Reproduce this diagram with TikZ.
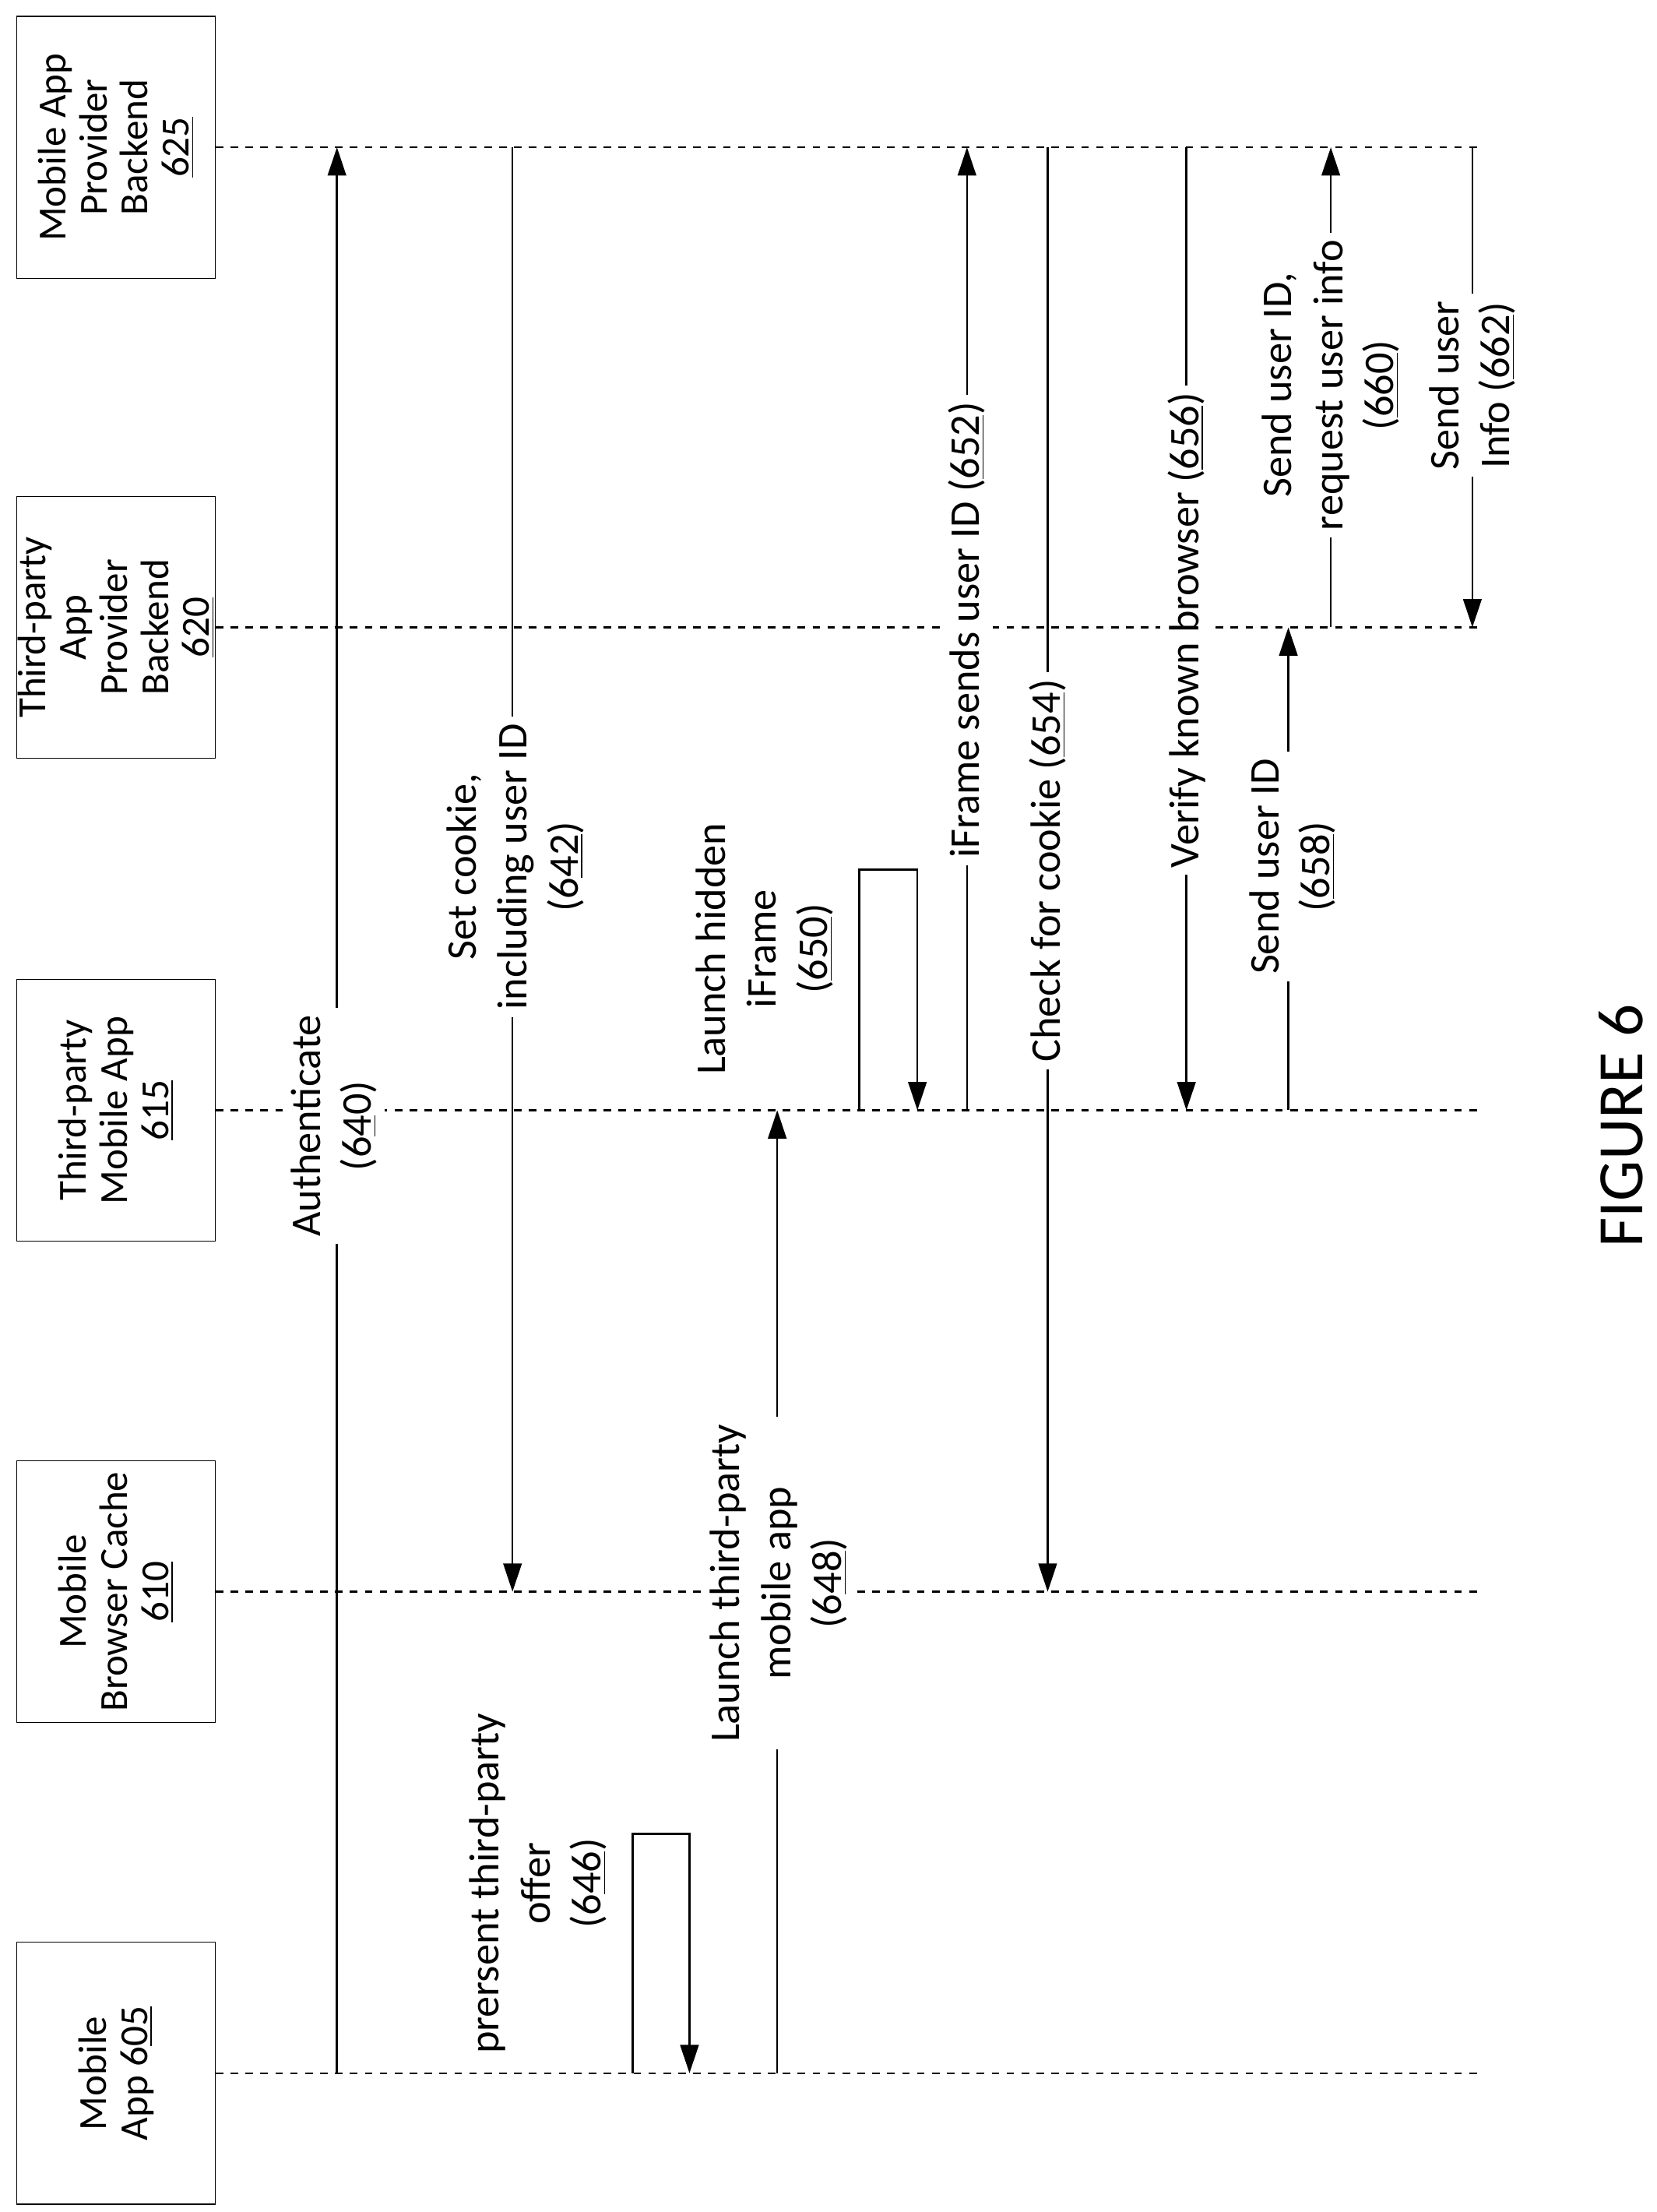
\documentclass[tikz,border=0pt]{standalone}
\usepackage{fontspec}
\setmainfont{Carlito}
\usetikzlibrary{arrows.meta, positioning}
\tikzset{%
  party/.style={draw, rotate=90, align=center, minimum width=3.7cm, minimum height=2.8cm, inner sep=0mm, font=\fontsize{16}{16.5}\selectfont},
  life/.style={dashed, thick},
  msg/.style={thick, -{Triangle[length=0.4cm,width=0.26cm]}},
  lbl/.style={rotate=90, align=center, fill=white, inner sep=1mm},
  freelbl/.style={rotate=90, align=center, inner sep=0mm}
}
\begin{document}
\begin{tikzpicture}[x=0.02cm, y=-0.02cm, font=\fontsize{17}{20.5}\selectfont]
  \useasboundingbox (0,0) rectangle (1170,1562);
  % parties
  \node[party] (b625) at (82,104) {Mobile App\\Provider\\Backend\\\underline{625}};
  \node[party] (b620) at (82,443) {Third-party\\App\\Provider\\Backend\\\underline{620}};
  \node[party] (b615) at (82,784) {Third-party\\Mobile App\\\underline{615}};
  \node[party] (b610) at (82,1124) {Mobile\\Browser Cache\\\underline{610}};
  \node[party] (b605) at (82,1464) {Mobile\\App 6\underline{05}};

  % lifelines
  \foreach \p/\y in {625/104, 620/443, 615/784, 610/1124, 605/1464} {
    \coordinate (e\p) at (1045,\y);
    \draw[life] (b\p.south) -- (e\p);
  }

  % message ends
  \coordinate (m640a) at (238,1464);  \coordinate (m640b) at (238,104);
  \coordinate (m642a) at (362,104);   \coordinate (m642b) at (362,1124);
  \coordinate (m648a) at (549,1464);  \coordinate (m648b) at (549,784);
  \coordinate (m652a) at (683,784);   \coordinate (m652b) at (683,104);
  \coordinate (m654a) at (740,104);   \coordinate (m654b) at (740,1124);
  \coordinate (m656a) at (838,104);   \coordinate (m656b) at (838,784);
  \coordinate (m658a) at (910,784);   \coordinate (m658b) at (910,443);
  \coordinate (m660a) at (940,443);   \coordinate (m660b) at (940,104);
  \coordinate (m662a) at (1040,104);  \coordinate (m662b) at (1040,443);

  \foreach \m in {640, 642, 648, 652, 654, 656, 658, 660, 662}
    \draw[msg] (m\m a) -- (m\m b);

  % self messages
  \draw[msg] (447,1464) |- (487,1295) -- (487,1464);
  \draw[msg] (607,784) |- (648,614) -- (648,784);

  % labels
  \node[lbl] (l640) at (236,795) {Authenticate\\(6\underline{4}0)};
  \node[lbl] (l642) at (364,612) {Set cookie,\\including user ID\\(6\underline{42})};
  \node[freelbl] (l646) at (380,1330) {prersent third-party\\offer\\(6\underline{46})};
  \node[lbl] (l648) at (550,1118) {Launch third-party\\mobile app\\(6\underline{48})};
  \node[freelbl] (l650) at (540,670) {Launch hidden\\iFrame\\(\underline{650})};
  \node[lbl] (l652) at (683,445) {iFrame sends user ID (\underline{652})};
  \node[lbl] (l654) at (740,615) {Check for cookie (\underline{654})};
  \node[lbl] (l656) at (838,445) {Verify known browser (\underline{656})};
  \node[lbl] (l658) at (913,612) {Send user ID\\(\underline{658})};
  \node[lbl] (l660) at (940,272) {Send user ID,\\request user info\\(\underline{660})};
  \node[lbl] (l662) at (1040,272) {Send user\\Info (\underline{662})};

  \node[freelbl, font=\fontsize{26}{30}\selectfont] (fig) at (1145,795) {FIGURE 6};
\end{tikzpicture}
\end{document}
